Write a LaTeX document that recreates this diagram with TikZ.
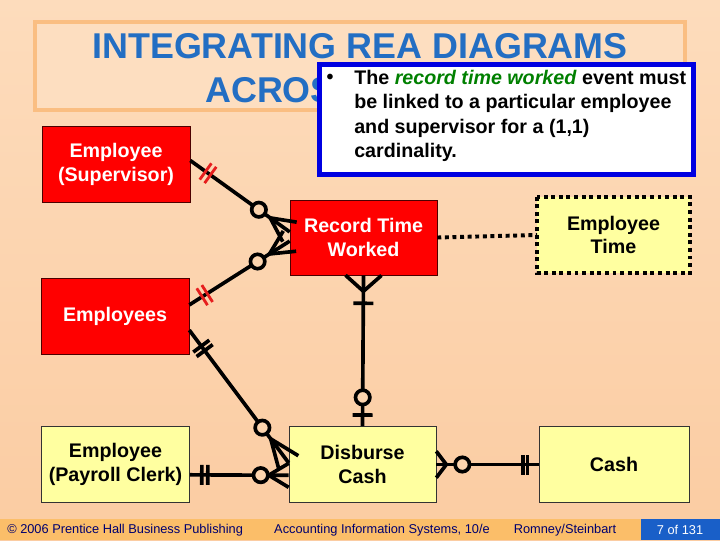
\documentclass[tikz,border=0pt]{standalone}
\usepackage{fontspec}
\setmainfont{Liberation Sans}
\usepackage{xcolor}
\usetikzlibrary{calc, positioning}
\definecolor{cPeachTop}{RGB}{253,220,188}
\definecolor{cPeach}{RGB}{252,212,174}
\definecolor{cPeachLow}{RGB}{251,204,162}
\definecolor{cTitleFill}{RGB}{253,222,192}
\definecolor{cTitleEdge}{RGB}{250,190,130}
\definecolor{cTitleBlue}{RGB}{35,110,195}
\definecolor{cNoteBlue}{RGB}{0,0,225}
\definecolor{cGreen}{RGB}{0,128,0}
\definecolor{cRed}{RGB}{255,0,0}
\definecolor{cBar}{RGB}{230,30,30}
\definecolor{cYellow}{RGB}{255,255,160}
\definecolor{cFoot}{RGB}{251,190,105}
\definecolor{cFootBlue}{RGB}{25,95,200}
\definecolor{cNavy}{RGB}{0,0,110}
\tikzset{
	event/.style   ={rectangle, draw=black!70!red, thin, fill=cRed, text=white, align=center, font=\bfseries\fontsize{14}{17}\selectfont, minimum width=3.7cm, minimum height=1.9cm},
	agent/.style   ={rectangle, draw=black!80, thin, fill=cYellow, text=black, align=center, font=\bfseries\fontsize{14}{17}\selectfont, minimum width=3.7cm, minimum height=1.9cm},
	link/.style    ={line width=2.6pt},
	dotlink/.style ={line width=2.8pt, dash pattern=on 2.8pt off 2.6pt},
	foottext/.style={text=cNavy, font=\fontsize{9.1}{11}\selectfont, inner sep=0pt},
	titletext/.style={text=cTitleBlue, font=\bfseries\fontsize{25.5}{30}\selectfont},
}
% cardinality marks: #1 end point, #2 other end, #3 distance from #1
\newcommand{\crowsfoot}[4][0.3cm]{%
	\coordinate (cf) at ($(#2)!#4!(#3)$);
	\draw[link] (cf) -- ($(#2)!#1!90:(#3)$);
	\draw[link] (cf) -- ($(#2)!#1!-90:(#3)$);}
\newcommand{\ringmark}[3]{%
	\draw[link, fill=cPeach] ($(#1)!#3!(#2)$) circle (0.18cm);}
\newcommand{\barmark}[4]{%
	\coordinate (bm) at ($(#1)!#3!(#2)$);
	\draw[link, #4] ($(bm)!0.25cm!90:(#2)$) -- ($(bm)!0.25cm!-90:(#2)$);}

\begin{document}
\begin{tikzpicture}[x=0.025cm, y=-0.025cm]
	\useasboundingbox (0,0) rectangle (720,540);
	\shade[top color=cPeachTop, bottom color=cPeachLow] (0,0) rectangle (720,540);

	% title
	\node (titlebox) [rectangle, draw=cTitleEdge, line width=2.5pt, fill=cTitleFill, minimum width=16.25cm, minimum height=2.2cm] at (360,66) {};
	\node (title1) [titletext] at (360,46) {INTEGRATING REA DIAGRAMS};
	\node (title2) [titletext, anchor=west, inner sep=0pt] at (205,90) {ACROSS};

	% callout
	\node (note) [rectangle, draw=cNoteBlue, line width=4pt, fill=white, minimum width=9.35cm, minimum height=2.75cm] at (506.5,119.5) {};
	\node (bullet) [font=\bfseries\fontsize{14}{17}\selectfont, inner sep=0pt] at (330,79) {\textbullet};
	\node (notetext) [anchor=north west, align=left, inner sep=0pt, font=\bfseries\fontsize{14}{17.3}\selectfont] at (354,70)
		{The \textcolor{cGreen}{\textit{record time worked}} event must\\
		 be linked to a particular employee\\
		 and supervisor for a (1,1)\\
		 cardinality.};

	% entities
	\node (sup)   [event] at (116,164.5) {Employee\\(Supervisor)};
	\node (emps)  [event] at (115,316.5) {Employees};
	\node (clerk) [agent] at (115.5,464) {Employee\\(Payroll Clerk)};
	\node (rtw)   [event, minimum width=3.675cm, minimum height=1.875cm] at (363.5,237.5) {Record Time\\Worked};
	\node (etime) [agent, draw=none, minimum width=3.8cm] at (613.5,235) {Employee\\Time};
	\draw[dotlink] (etime.north west) rectangle (etime.south east);
	\node (dc)    [agent, minimum width=3.675cm] at (362.5,464.5) {Disburse\\Cash};
	\node (cash)  [agent, minimum width=3.75cm] at (614,464.5) {Cash};

	% connector end points
	\coordinate (s1) at ([yshift=0.1cm]sup.east);
	\coordinate (r1) at ([yshift=0.14cm]rtw.west);
	\coordinate (e2) at ([yshift=0.29cm]emps.east);
	\coordinate (r2) at ([yshift=-0.09cm]rtw.west);
	\coordinate (e3) at ([yshift=-0.34cm]emps.east);
	\coordinate (d3) at ([yshift=0.04cm]dc.west);
	\coordinate (c4) at ([yshift=-0.27cm]clerk.east);
	\coordinate (d4) at ([yshift=-0.27cm]dc.west);

	% supervisor -- record time worked
	\draw[link] (s1) -- (r1);
	\barmark{s1}{r1}{0.47cm}{cBar, line width=2pt}
	\barmark{s1}{r1}{0.62cm}{cBar, line width=2pt}
	\ringmark{r1}{s1}{0.95cm}
	\crowsfoot{r1}{s1}{0.6cm}

	% employees -- record time worked
	\draw[link] (e2) -- (r2);
	\barmark{e2}{r2}{0.38cm}{cBar, line width=2pt}
	\barmark{e2}{r2}{0.53cm}{cBar, line width=2pt}
	\ringmark{r2}{e2}{0.95cm}
	\crowsfoot{r2}{e2}{0.6cm}

	% employees -- disburse cash
	\draw[link] (e3) -- (d3);
	\barmark{e3}{d3}{0.5cm}{}
	\barmark{e3}{d3}{0.64cm}{}
	\ringmark{d3}{e3}{1.1cm}
	\crowsfoot{d3}{e3}{0.75cm}

	% payroll clerk -- disburse cash
	\draw[link] (c4) -- (d4);
	\barmark{c4}{d4}{0.3cm}{}
	\barmark{c4}{d4}{0.45cm}{}
	\ringmark{d4}{c4}{0.7cm}
	\crowsfoot{d4}{c4}{0.5cm}

	% record time worked -- disburse cash
	\draw[link] (rtw.south) -- (dc.north);
	\crowsfoot[0.45cm]{rtw.south}{dc.north}{0.4cm}
	\barmark{rtw.south}{dc.north}{0.7cm}{}
	\ringmark{dc.north}{rtw.south}{0.72cm}
	\barmark{dc.north}{rtw.south}{0.28cm}{}

	% disburse cash -- cash
	\draw[link] (dc.east) -- (cash.west);
	\crowsfoot[0.33cm]{dc.east}{cash.west}{0.25cm}
	\ringmark{dc.east}{cash.west}{0.65cm}
	\barmark{cash.west}{dc.east}{0.28cm}{}
	\barmark{cash.west}{dc.east}{0.4cm}{}

	% record time worked -- employee time
	\draw[dotlink] (rtw.east) -- (etime.west);

	% footer
	\fill[cFoot] (0,519) rectangle (720,540);
	\fill[cFootBlue] (641,519) rectangle (720,540);
	\node (foot1) [foottext, anchor=west] at (7,530) {\textcopyright{} 2006 Prentice Hall Business Publishing};
	\node (foot2) [foottext] at (382,530) {Accounting Information Systems, 10/e};
	\node (foot3) [foottext] at (565,530) {Romney/Steinbart};
	\node (foot4) [foottext, text=white] at (680,530) {7 of 131};
\end{tikzpicture}
\end{document}
